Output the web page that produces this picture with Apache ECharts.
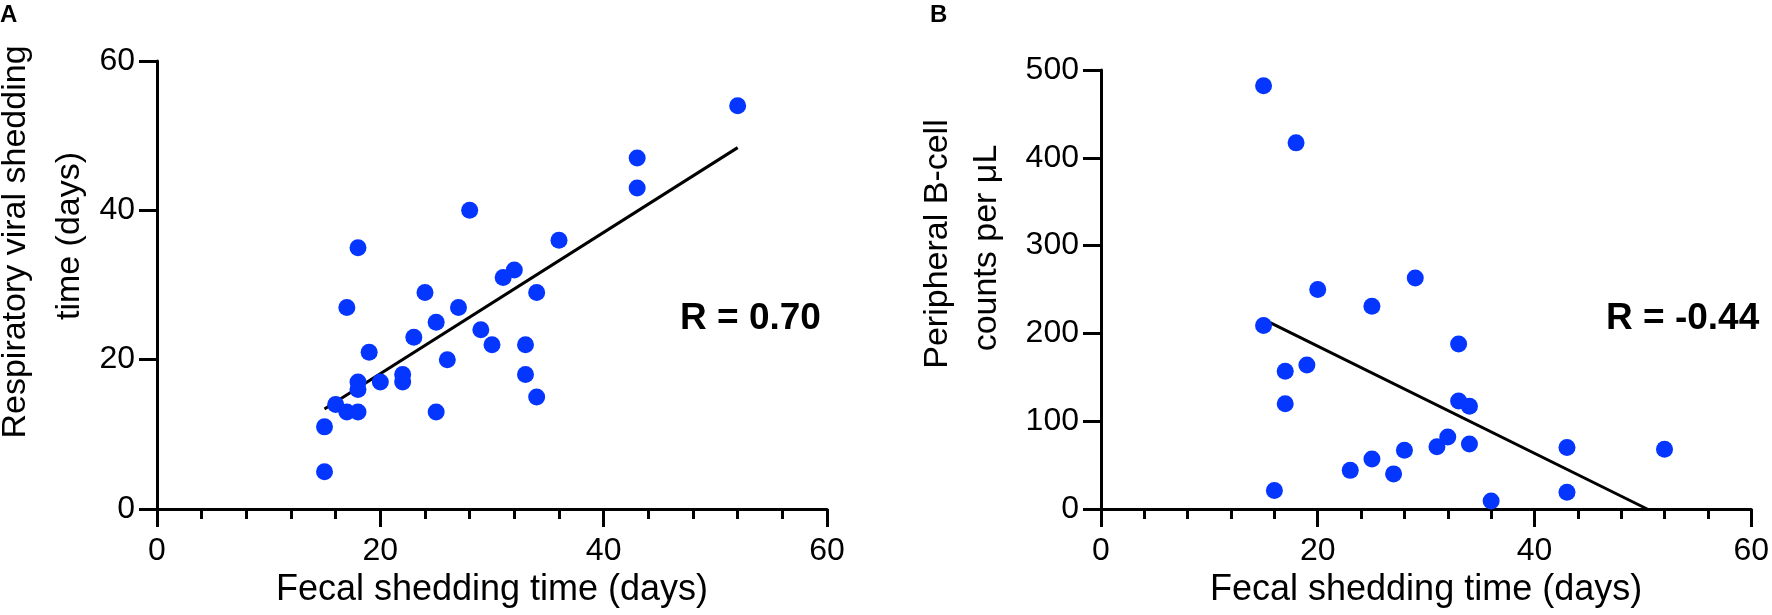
<!DOCTYPE html>
<html>
<head>
<meta charset="utf-8">
<script src="https://cdn.jsdelivr.net/npm/echarts@6/dist/echarts.min.js"></script>
<style>
html,body{margin:0;padding:0;background:#fff;}
#chart{width:1772px;height:615px;}
</style>
</head>
<body>
<div id="chart"></div>
<script>
// Panel A: fecal vs respiratory shedding time (days)
const fecalA = [52, 43, 43, 28, 36, 18, 32, 31, 34, 24, 17, 27, 25, 29, 23, 30, 33, 19, 26, 22, 33, 18, 20, 22, 18, 34, 16, 17, 18, 25, 15, 15];
const respA  = [54, 47, 43, 40, 36, 35, 32, 31, 29, 29, 27, 27, 25, 24, 23, 22, 22, 21, 20, 18, 18, 17, 17, 17, 16, 15, 14, 13, 13, 13, 11, 5];
const fitAX = [15, 52];
const fitAY = [13.4, 48.4];

// Panel B: fecal shedding time vs peripheral B-cell counts
const fecalB = [15, 18, 29, 20, 25, 15, 33, 19, 17, 17, 33, 34, 32, 31, 34, 28, 43, 25, 23, 27, 36, 43, 52, 16];
const bcellB = [482, 417, 263, 250, 231, 209, 188, 164, 157, 120, 123, 117, 82, 71, 74, 67, 70, 57, 44, 40, 9, 19, 68, 21];
const fitBX = [15, 50.4];
const fitBY = [216, 0];

const xTicks = [0, 20, 40, 60];
const yTicksA = [0, 20, 40, 60];
const yTicksB = [0, 100, 200, 300, 400, 500];

const FONT = 'Liberation Sans, Arial, Helvetica, sans-serif';
const BLUE = '#0536ff';

function pairs(xs, ys){ return xs.map((x,i)=>[x, ys[i]]); }

function xAxisCfg(idx){
  return {
    type:'value', gridIndex:idx, min:xTicks[0], max:xTicks[xTicks.length-1], interval:20,
    name:'Fecal shedding time (days)', nameLocation:'middle', nameGap:62,
    nameTextStyle:{fontFamily:FONT, fontSize:36, color:'#000'},
    axisLine:{show:true, onZero:false, lineStyle:{color:'#000', width:3}},
    axisTick:{show:true, length:18, lineStyle:{color:'#000', width:3}},
    minorTick:{show:true, splitNumber:5, length:10, lineStyle:{color:'#000', width:3}},
    axisLabel:{fontFamily:FONT, fontSize:32, color:'#000', margin:26},
    splitLine:{show:false}
  };
}
function yAxisCfg(idx, max, interval){
  return {
    type:'value', gridIndex:idx, min:0, max:max, interval:interval,
    axisLine:{show:true, onZero:false, lineStyle:{color:'#000', width:3}},
    axisTick:{show:true, length:18, lineStyle:{color:'#000', width:3}},
    axisLabel:{fontFamily:FONT, fontSize:32, color:'#000', margin:22},
    splitLine:{show:false}
  };
}

const chart = echarts.init(document.getElementById('chart'), null, {renderer:'canvas'});
chart.setOption({
  backgroundColor:'#fff',
  animation:false,
  grid:[
    {left:157, top:61, width:670, height:448},
    {left:1101, top:70, width:654, height:439}
  ],
  xAxis:[xAxisCfg(0), xAxisCfg(1)],
  yAxis:[yAxisCfg(0, yTicksA[yTicksA.length-1], 20), yAxisCfg(1, yTicksB[yTicksB.length-1], 100)],
  series:[
    {type:'line', xAxisIndex:0, yAxisIndex:0, data:pairs(fitAX, fitAY), symbol:'none',
     lineStyle:{color:'#000', width:3}, z:2, silent:true},
    {type:'scatter', xAxisIndex:0, yAxisIndex:0, data:pairs(fecalA, respA), symbolSize:17,
     itemStyle:{color:BLUE, opacity:1}, z:3},
    {type:'line', xAxisIndex:1, yAxisIndex:1, data:pairs(fitBX, fitBY), symbol:'none',
     lineStyle:{color:'#000', width:3}, z:2, silent:true},
    {type:'scatter', xAxisIndex:1, yAxisIndex:1, data:pairs(fecalB, bcellB), symbolSize:17,
     itemStyle:{color:BLUE, opacity:1}, z:3}
  ],
  graphic:[
    {type:'text', left:0, top:3, style:{text:'A', font:'bold 24px '+FONT, fill:'#000'}},
    {type:'text', left:930, top:3, style:{text:'B', font:'bold 24px '+FONT, fill:'#000'}},
    {type:'text', x:16, y:242, rotation:Math.PI/2,
     style:{text:'Respiratory viral shedding', font:'34px '+FONT, fill:'#000', textAlign:'center', textVerticalAlign:'middle'}},
    {type:'text', x:70, y:236, rotation:Math.PI/2,
     style:{text:'time (days)', font:'34px '+FONT, fill:'#000', textAlign:'center', textVerticalAlign:'middle'}},
    {type:'text', x:938, y:244, rotation:Math.PI/2,
     style:{text:'Peripheral B-cell', font:'34px '+FONT, fill:'#000', textAlign:'center', textVerticalAlign:'middle'}},
    {type:'text', x:987, y:248, rotation:Math.PI/2,
     style:{text:'counts per μL', font:'34px '+FONT, fill:'#000', textAlign:'center', textVerticalAlign:'middle'}},
    {type:'text', x:680, y:319,
     style:{text:'R = 0.70', font:'bold 37px '+FONT, fill:'#000', textAlign:'left', textVerticalAlign:'middle'}},
    {type:'text', x:1606, y:319,
     style:{text:'R = -0.44', font:'bold 37px '+FONT, fill:'#000', textAlign:'left', textVerticalAlign:'middle'}}
  ]
});
</script>
</body>
</html>
